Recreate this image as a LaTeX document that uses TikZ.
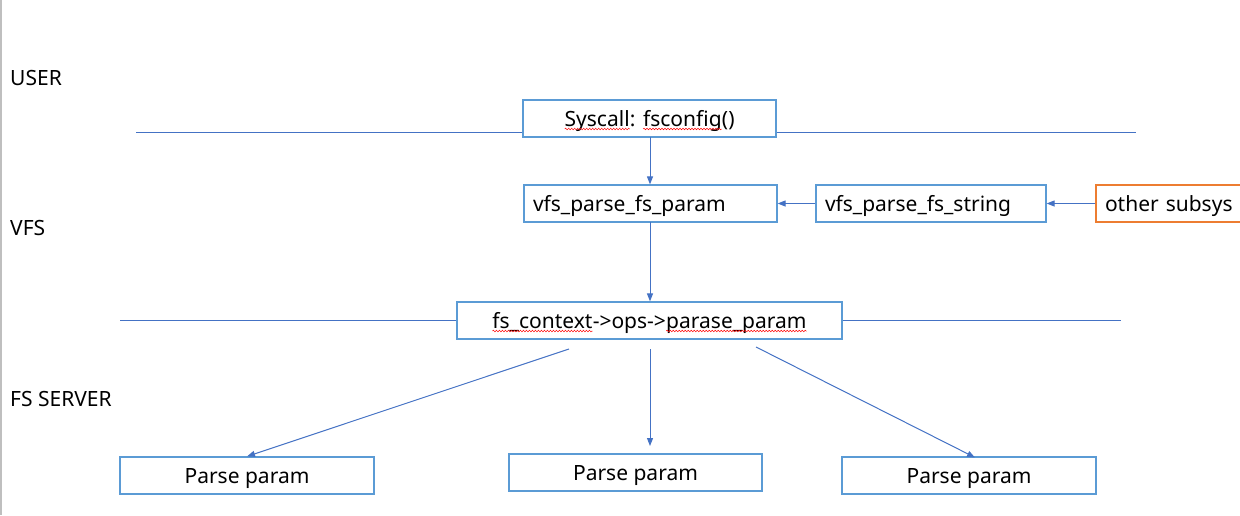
\documentclass[tikz,border=0pt]{standalone}
\usepackage{fontspec}
\setmainfont{Noto Sans}
\usetikzlibrary{arrows.meta,decorations.pathmorphing}
\definecolor{lineblue}{HTML}{4472C4}
\definecolor{boxblue}{HTML}{5B9BD5}
\definecolor{orng}{HTML}{ED7D31}
\newcommand\redwave[1]{\tikz[baseline=(w.base)]{\node[draw=none, fill=none, minimum width=0pt, minimum height=0pt, inner sep=0pt, outer sep=0pt, text height=, text depth=] (w) {#1};
  \draw[red, line width=0.5pt, decorate, decoration={snake, amplitude=0.8pt, segment length=3pt}] ([yshift=-3pt]w.base west) -- ([yshift=-3pt]w.base east);}}
\tikzset{
  box/.style={draw=boxblue, line width=1.2pt, fill=white, minimum height=37pt, inner sep=0pt, text height=18pt, text depth=3pt, font=\fontsize{21}{23}\selectfont},
  lbox/.style={box, text width=#1, align=left, inner xsep=9pt},
  conn/.style={draw=lineblue, line width=1pt, -{Triangle[length=8pt,width=6pt]}},
  sep/.style={draw=lineblue, line width=1pt},
  lbl/.style={anchor=west, inner sep=0pt, font=\fontsize{21}{23}\selectfont}
}
\begin{document}
\begin{tikzpicture}[x=1pt,y=-1pt]
\useasboundingbox (0,0) rectangle (1240,515);
\draw[color=black!25, line width=1.5pt] (1,0) -- (1,515);
% separators
\coordinate (s1a) at (136,132); \coordinate (s1b) at (1136,132);
\coordinate (s2a) at (120,320); \coordinate (s2b) at (1121,320);
\draw[sep] (s1a) -- (s1b);
\draw[sep] (s2a) -- (s2b);
% labels
\node[lbl] (user) at (10,78) {USER};
\node[lbl] (vfs) at (10,228) {VFS};
\node[lbl] (fss) at (10,399) {FS SERVER};
% boxes
\node[box, minimum width=253pt] (sys) at (649.5,118.5) {\redwave{Syscall}: \redwave{fsconfig}()};
\node[lbox=235pt] (vpp) at (650.5,203.5) {vfs\_parse\_fs\_param};
\node[lbox=212pt] (vps) at (931,203.5) {vfs\_parse\_fs\_string};
\node[box, draw=orng, text width=146pt, align=left, inner xsep=9pt] (oth) at (1178,203.5) {other subsys};
\node[box, minimum width=385pt] (ctx) at (649.5,320.5) {\redwave{fs\_context}->ops->\redwave{parase\_param}};
\node[box, minimum width=254pt] (p1) at (247,475.5) {Parse param};
\node[box, minimum width=253pt] (p2) at (635.5,472.5) {Parse param};
\node[box, minimum width=254pt] (p3) at (969,475.5) {Parse param};
% connectors
\coordinate (a1) at (650,137);
\coordinate (a2) at (650,222);
\draw[conn] (a1) -- (a1 |- vpp.north);
\draw[conn] (vps.west) -- (vpp.east);
\draw[conn] (oth.west) -- (vps.east);
\draw[conn] (a2) -- (a2 |- ctx.north);
\coordinate (c1) at (569,349);
\coordinate (c2) at (650,349);
\coordinate (c3) at (756,347);
\coordinate (t2) at (650,446);
\coordinate (t3) at (975,457.5);
\draw[conn] (c1) -- (p1.north);
\draw[conn] (c2) -- (t2);
\draw[conn] (c3) -- (t3);
\end{tikzpicture}
\end{document}
